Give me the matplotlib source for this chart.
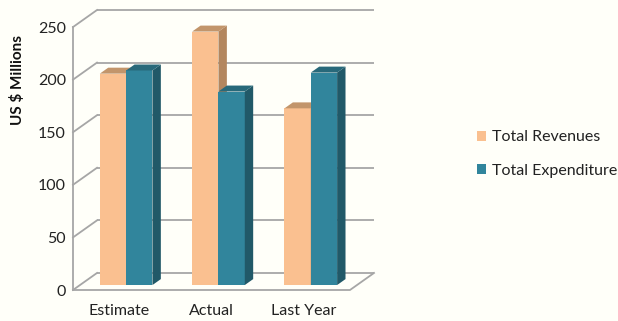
import matplotlib
matplotlib.use("Agg")
import matplotlib.pyplot as plt
from matplotlib.patches import Polygon, Patch

categories = ["Estimate", "Actual", "Last Year"]
series_names = ["Total Revenues", "Total Expenditure"]
revenues = [201, 241, 168]
expenditure = [204, 184, 202]
yticks = [0, 50, 100, 150, 200, 250]

front_colors = ["#FAC090", "#31859C"]
side_colors = ["#B3865E", "#215968"]
top_colors = ["#C2956B", "#28697A"]
grid_color = "#A6A6A6"
bg = "#FFFFF9"

plt.rcParams['font.family'] = ['Lato', 'DejaVu Sans']

W, H = 618, 321
fig = plt.figure(figsize=(W / 100, H / 100), dpi=100, facecolor=bg)
ax = fig.add_axes([73 / W, 31 / H, (374 - 73) / W, 280 / H])
ax.set_facecolor(bg)

DX = 0.26   # depth offset in category units
DY = 16.2   # depth offset in value units
ymax = yticks[-1]
ax.set_xlim(-0.5, len(categories) - 0.5 + DX)
ax.set_ylim(0, ymax + DY)

lw = 1.3
# back wall gridlines and left wall diagonals
for v in yticks:
    ax.plot([-0.5 + DX, len(categories) - 0.5 + DX], [v + DY, v + DY],
            color=grid_color, lw=lw, zorder=1, clip_on=False, solid_capstyle='butt')
    ax.plot([-0.5, -0.5 + DX], [v, v + DY], color=grid_color, lw=lw, zorder=1, clip_on=False)
# left front vertical
ax.plot([-0.5, -0.5], [0, ymax], color=grid_color, lw=lw, zorder=1, clip_on=False)
# floor
ax.plot([-0.5, len(categories) - 0.5, len(categories) - 0.5 + DX],
        [0, 0, DY], color=grid_color, lw=lw, zorder=1, clip_on=False)

BW = 0.285
d0 = 0.29
sd = 0.35
data = [revenues, expenditure]
z = 2
for i in range(len(categories)):
    for s in range(2):
        v = data[s][i]
        xa = i + (s - 1) * BW + d0 * DX
        xb = xa + BW
        yb = d0 * DY
        yt = v + d0 * DY
        ox, oy = sd * DX, sd * DY
        ax.add_patch(Polygon([(xa, yb), (xb, yb), (xb, yt), (xa, yt)], closed=True,
                             facecolor=front_colors[s], edgecolor='none', zorder=z))
        ax.add_patch(Polygon([(xb, yb), (xb + ox, yb + oy), (xb + ox, yt + oy), (xb, yt)],
                             closed=True, facecolor=side_colors[s], edgecolor='none', zorder=z))
        ax.add_patch(Polygon([(xa, yt), (xb, yt), (xb + ox, yt + oy), (xa + ox, yt + oy)],
                             closed=True, facecolor=top_colors[s], edgecolor='none', zorder=z))
        z += 1

ax.set_yticks(yticks)
ax.set_yticklabels([str(t) for t in yticks])
ax.set_xticks(range(len(categories)))
ax.set_xticklabels(categories)
ax.tick_params(axis='y', length=0, pad=5, labelsize=11.5, labelcolor='#222222')
ax.tick_params(axis='x', length=0, pad=10, labelsize=11.5, labelcolor='#222222')
for sp in ax.spines.values():
    sp.set_visible(False)

fig.text(18 / W, 1 - 80 / H, "US $ Millions", rotation=90, ha='center', va='center',
         fontsize=11, fontweight='bold', color='#111111')

handles = [Patch(facecolor=front_colors[s], edgecolor='none') for s in range(2)]
fig.legend(handles, series_names, loc='center left', bbox_to_anchor=(477 / W, 1 - 154 / H),
           frameon=False, fontsize=11.5, handlelength=0.58, handleheight=0.58,
           handletextpad=0.35, labelspacing=1.2, labelcolor='#222222',
           borderpad=0, borderaxespad=0)

fig.savefig("out.png", dpi=100, facecolor=bg)
